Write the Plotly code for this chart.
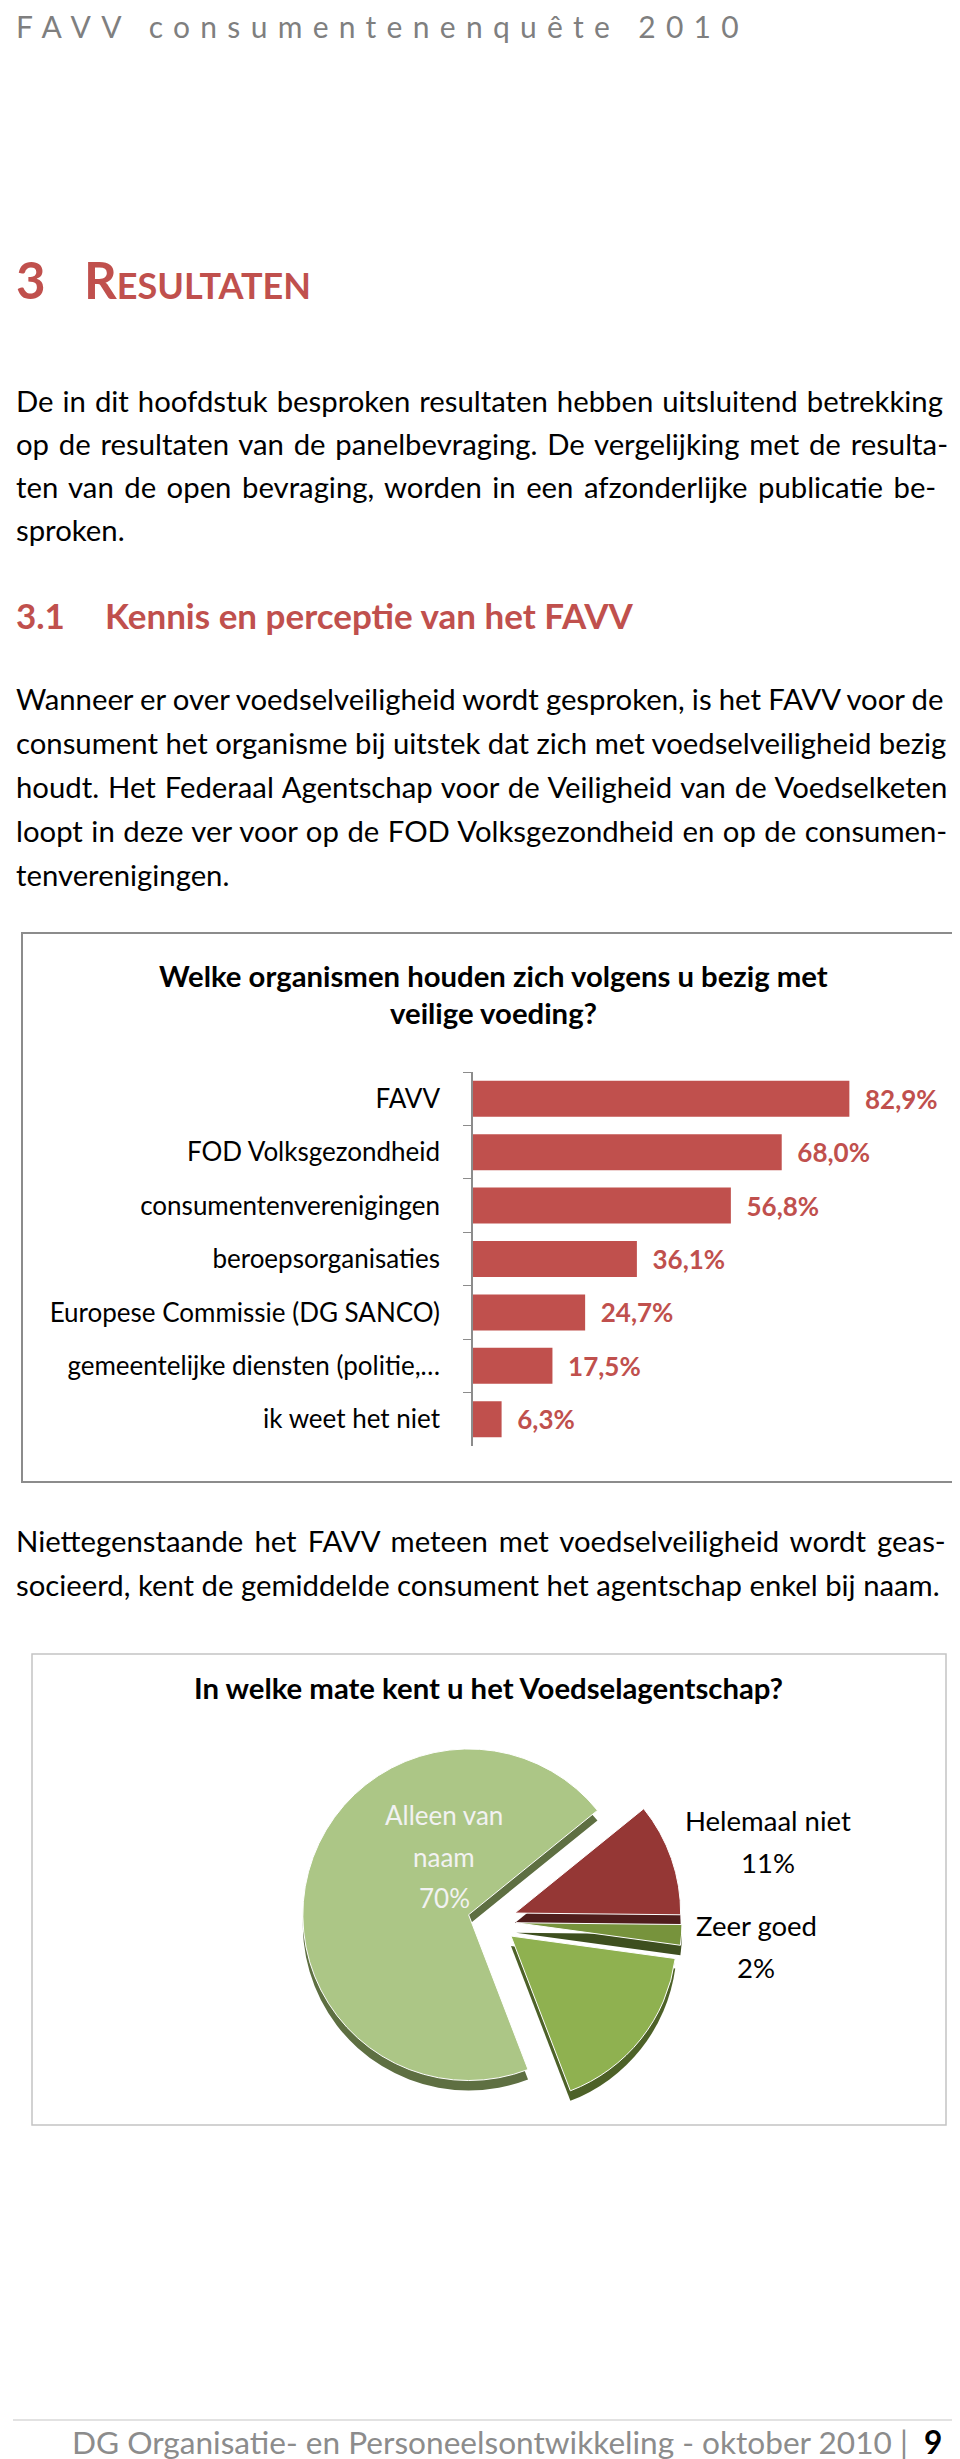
import plotly.graph_objects as go

W, H = 960, 2459
FONT = "Lato"
RED = "#C0504D"

# bar chart data
categories = ["FAVV", "FOD Volksgezondheid", "consumentenverenigingen", "beroepsorganisaties",
              "Europese Commissie (DG SANCO)", "gemeentelijke diensten (politie,…", "ik weet het niet"]
percentages = [82.9, 68.0, 56.8, 36.1, 24.7, 17.5, 6.3]

# pie data
pie_labels = ["Helemaal niet", "Zeer goed", "Goed", "Alleen van naam"]
pie_values = [11, 2, 17, 70]
pie_colors = ["#953735", "#77933C", "#8FB150", "#ACC686"]
pie_side_colors = ["#4F1D1C", "#3E4F1F", "#4D6128", "#5E6F42"]

para1 = ["De in dit hoofdstuk besproken resultaten hebben uitsluitend betrekking",
         "op de resultaten van de panelbevraging. De vergelijking met de resulta-",
         "ten van de open bevraging, worden in een afzonderlijke publicatie be-",
         "sproken."]
para2 = ["Wanneer er over voedselveiligheid wordt gesproken, is het FAVV voor de",
         "consument het organisme bij uitstek dat zich met voedselveiligheid bezig",
         "houdt. Het Federaal Agentschap voor de Veiligheid van de Voedselketen",
         "loopt in deze ver voor op de FOD Volksgezondheid en op de consumen-",
         "tenverenigingen."]
para3 = ["Niettegenstaande het FAVV meteen met voedselveiligheid wordt geas-",
         "socieerd, kent de gemiddelde consument het agentschap enkel bij naam."]

# extra word spacing (px) to imitate the justified lines
just1 = [1.5, 2.3, 3.0, 0]
just2 = [-0.3, 0, 1.4, 1.0, 0]
just3 = [3.6, 0]


def px(x):
    return x / W


def py(y):
    return 1 - y / H


fig = go.Figure()

fig.add_trace(go.Bar(
    y=categories, x=percentages, orientation="h",
    marker=dict(color=RED, line=dict(width=0)),
    text=["  " + f"{v:.1f}".replace(".", ",") + "%" for v in percentages],
    textposition="outside", constraintext="none", cliponaxis=False,
    textfont=dict(family=FONT, size=26, color=RED, weight="bold"),
    hoverinfo="skip", showlegend=False))

# pie: a darker copy slightly lower gives the 3D edge
cx, cy, hs = 484, 1913, 190
for dy, colors, lc in [(10, pie_side_colors, "rgba(0,0,0,0)"), (0, pie_colors, "white")]:
    fig.add_trace(go.Pie(
        labels=pie_labels, values=pie_values, sort=False, direction="clockwise",
        rotation=51, pull=0.146, textinfo="none", hoverinfo="skip", showlegend=False,
        marker=dict(colors=colors, line=dict(color=lc, width=1)),
        domain=dict(x=[px(cx - hs), px(cx + hs)], y=[py(cy + hs + dy), py(cy - hs + dy)])))

ann = []


def txt(t, x, y, size=29.3, color="#000000", bold=False, anchor="left", ws=0, **kw):
    if ws:
        t = f'<span style="word-spacing:{ws}px">{t}</span>'
    ann.append(dict(text=t, x=px(x), y=py(y), xref="paper", yref="paper",
                    xanchor=anchor, yanchor="middle", showarrow=False,
                    font=dict(family=FONT, size=size, color=color,
                              weight="bold" if bold else "normal", **kw)))


txt('<span style="letter-spacing:10.3px">FAVV consumentenenquête 2010</span>', 6, 18, size=30, color="#7F7F7F")
txt("3", 6, 272, size=51, color=RED, bold=True)
txt("Resultaten", 74, 272, size=51, color=RED, bold=True, variant="small-caps")
for i, line in enumerate(para1):
    txt(line, 6, 392 + i * 43.3, ws=just1[i])
txt("3.1", 6, 607, size=35, color=RED, bold=True)
txt("Kennis en perceptie van het FAVV", 95, 607, size=35, color=RED, bold=True)
for i, line in enumerate(para2):
    txt(line, 6, 690 + i * 44, ws=just2[i])

txt("Welke organismen houden zich volgens u bezig met", 485, 967, bold=True, anchor="center")
txt("veilige voeding?", 485, 1005, bold=True, anchor="center")

for i, line in enumerate(para3):
    txt(line, 6, 1532 + i * 44.5, ws=just3[i])

txt("In welke mate kent u het Voedselagentschap?", 480, 1679, bold=True, anchor="center")

# pie labels
for i, line in enumerate(["Alleen van", "naam", f"{pie_values[3]}%"]):
    txt(line, 436, 1807 + i * 41.5, size=26, color="#F2F2F2", anchor="center")
for i, line in enumerate([pie_labels[0], f"{pie_values[0]}%"]):
    txt(line, 760, 1812 + i * 42, size=27.5, anchor="center")
for i, line in enumerate([pie_labels[1], f"{pie_values[1]}%"]):
    txt(line, 748, 1917 + i * 42, size=27.5, anchor="center")

txt('DG Organisatie- en Personeelsontwikkeling - oktober 2010 |  <span style="color:#000000;font-weight:bold">9</span>',
    62, 2434, size=31.6, color="#8C8C8C")

shapes = [
    dict(type="rect", xref="paper", yref="paper", x0=px(14), x1=px(955), y0=py(925), y1=py(1474),
         line=dict(color="#8C8C8C", width=2)),
    dict(type="rect", xref="paper", yref="paper", x0=px(24), x1=px(938), y0=py(1646), y1=py(2117),
         line=dict(color="#C4C4C4", width=1.5)),
    dict(type="line", xref="paper", yref="paper", x0=px(5), x1=px(955), y0=py(2412), y1=py(2412),
         line=dict(color="#D9D9D9", width=1.5)),
]

fig.update_layout(
    width=W, height=H, margin=dict(l=0, r=0, t=0, b=0),
    paper_bgcolor="white", plot_bgcolor="white",
    bargap=0.326,
    xaxis=dict(domain=[px(465), px(465 + 454)], range=[0, 100], visible=False, fixedrange=True),
    yaxis=dict(domain=[py(1438), py(1064)], autorange="reversed", showline=True,
               linecolor="#8C8C8C", linewidth=1.5, ticks="outside", tickson="boundaries",
               ticklen=8, tickcolor="#8C8C8C", ticklabelstandoff=26, showgrid=False,
               zeroline=False, fixedrange=True,
               tickfont=dict(family=FONT, size=26, color="#000000")),
    annotations=ann, shapes=shapes,
)

fig.write_html("out.html", config=dict(displayModeBar=False))
